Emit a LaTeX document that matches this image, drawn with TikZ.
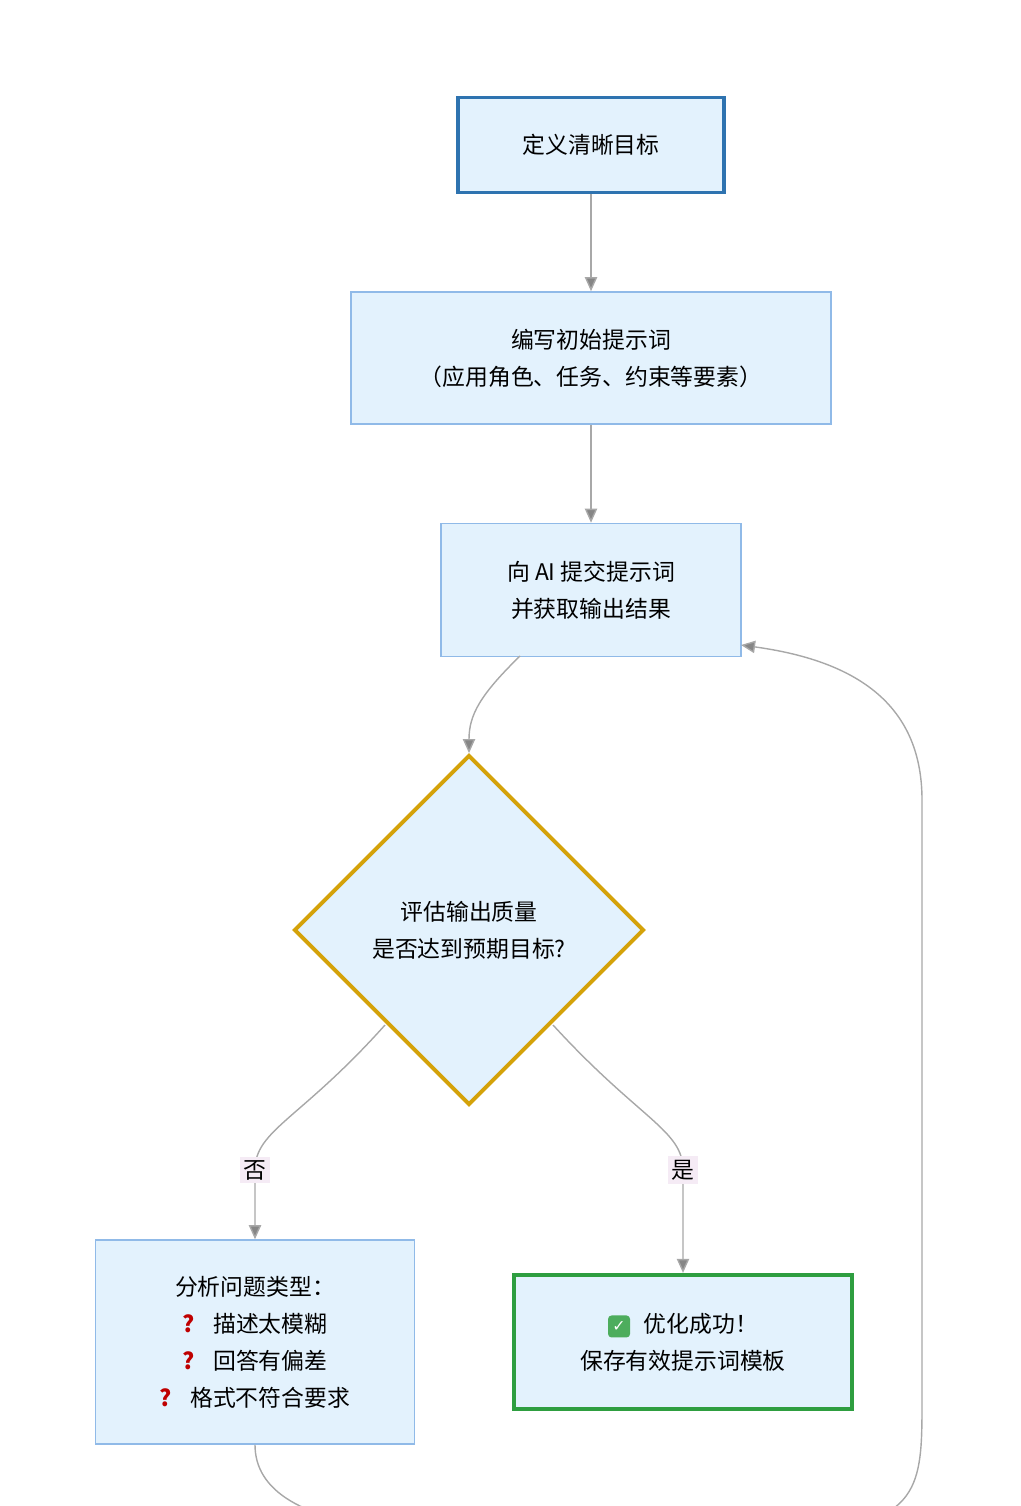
\documentclass[tikz,border=0pt]{standalone}
\usepackage{fontspec}
\setmainfont{Noto Sans CJK SC}
\newfontfamily\symfont{DejaVu Sans}
\usetikzlibrary{shapes.geometric}
\usetikzlibrary{arrows.meta}
\usetikzlibrary{positioning}
\definecolor{boxfill}{HTML}{E3F2FD}
\definecolor{boxline}{HTML}{90BAE8}
\definecolor{startline}{HTML}{2E73B0}
\definecolor{okline}{HTML}{2E9E40}
\definecolor{diamline}{HTML}{D4A20A}
\definecolor{edgegray}{HTML}{A8A8A8}
\tikzstyle{procblock} = [rectangle, draw=boxline, line width=0.9pt, fill=boxfill, align=center,
  font=\fontsize{13}{21}\selectfont, inner sep=0pt]
\tikzstyle{startblock} = [procblock, draw=startline, line width=2.2pt]
\tikzstyle{okblock} = [procblock, draw=okline, line width=2.4pt]
\tikzstyle{decblock} = [diamond, draw=diamline, line width=2.2pt, fill=boxfill, align=center,
  font=\fontsize{13}{21}\selectfont, inner sep=0pt, aspect=1]
\tikzstyle{arrow} = [draw=edgegray, line width=0.8pt, -{Triangle[length=8pt,width=7pt,fill=edgegray!80!black]}]
\tikzstyle{edgelabel} = [fill=violet!8, font=\fontsize{13}{15}\selectfont, inner sep=2pt]
\newcommand{\qmark}{{\color{red!75!black}\bfseries ?}\hspace{0.8em}}
\newsavebox{\okbox}
\sbox{\okbox}{\tikz[baseline=-0.6ex]{\fill[okline!85!white, rounded corners=2pt] (-0.22,-0.22) rectangle (0.22,0.22);
  \node[text=white, font=\symfont\bfseries\small, inner sep=0pt] {✓};}}
\begin{document}
\begin{tikzpicture}[x=0.02cm, y=-0.02cm]
  \useasboundingbox (0,0) rectangle (1020,1506);
  \node (goal) [startblock, minimum width=5.32cm, minimum height=1.9cm] at (591,145) {定义清晰目标};
  \node (write) [procblock, minimum width=9.6cm, minimum height=2.64cm] at (591,358) {编写初始提示词\\（应用角色、任务、约束等要素）};
  \node (submit) [procblock, minimum width=6cm, minimum height=2.66cm] at (591,590) {向 AI 提交提示词\\并获取输出结果};
  \node (eval) [decblock, minimum width=7cm, minimum height=7cm] at (469,930) {评估输出质量\\是否达到预期目标?};
  \node (analyze) [procblock, minimum width=6.38cm, minimum height=4.08cm] at (255,1342)
    {分析问题类型：\\\qmark 描述太模糊\\\qmark 回答有偏差\\\qmark 格式不符合要求};
  \node (done) [okblock, minimum width=6.76cm, minimum height=2.68cm] at (683,1342)
    {\usebox{\okbox}\hspace{0.6em}优化成功！\\保存有效提示词模板};
  \draw [arrow] (goal) -- (write);
  \draw [arrow] (write) -- (submit);
  \draw [arrow] (520,656) .. controls (480,695) and (469,715) .. (eval.north);
  \draw [arrow] (385,1025) .. controls (300,1120) and (255,1130) .. (255,1170) node[edgelabel]{否} -- (analyze.north);
  \draw [arrow] (553,1025) .. controls (640,1120) and (683,1130) .. (683,1170) node[edgelabel]{是} -- (done.north);
  \draw [arrow] (analyze.south) .. controls (255,1490) and (300,1520) .. (400,1530)
    -- (820,1530) .. controls (922,1520) and (922,1480) .. (922,1400)
    -- (922,800) .. controls (922,700) and (850,660) .. (741,645);
\end{tikzpicture}
\end{document}
